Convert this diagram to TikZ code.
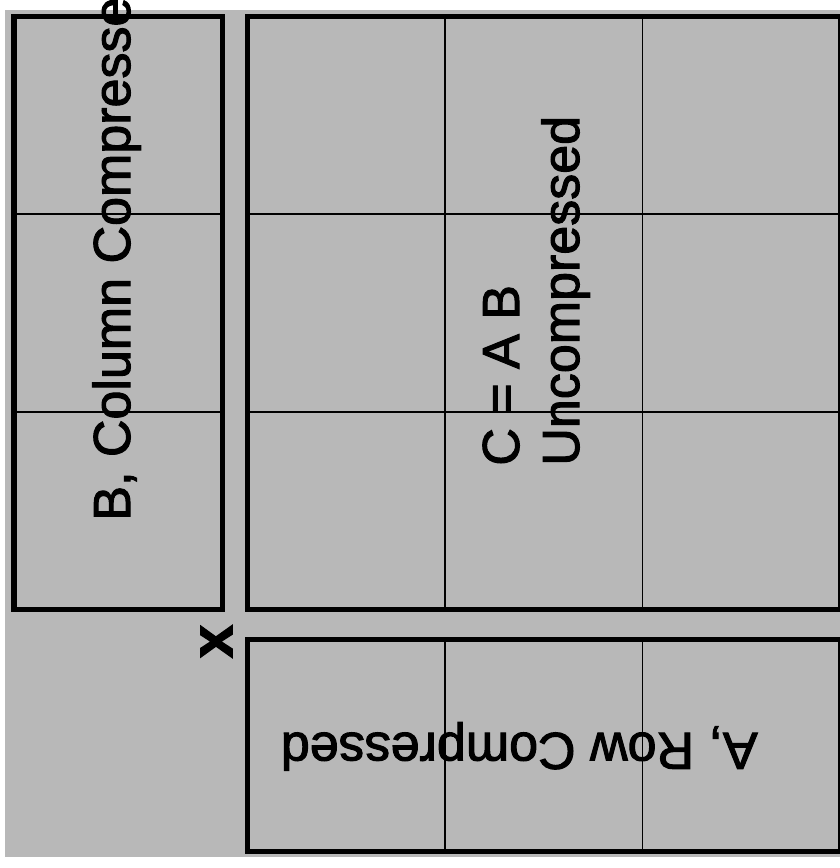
\documentclass[tikz,border=0pt]{standalone}
\usepackage{fontspec}
\setmainfont{Liberation Sans}[FakeBold=2]
\usetikzlibrary{positioning}
\definecolor{panelgray}{HTML}{B8B8B8}

\begin{document}
\begin{tikzpicture}[x=0.02cm,y=0.02cm,
    every node/.style={inner sep=0pt,font=\fontsize{29.6}{34}\selectfont},
    frame/.style={draw=black,line width=2.85pt},
    cell/.style={draw=black,line width=0.6pt}]
  \useasboundingbox (0,0) rectangle (839,868);
  \fill[panelgray] (5,11) rectangle (845,858);
  % thin cell lines
  \foreach \yy in {456,654} {
    \draw[cell] (14,\yy) -- (222.5,\yy);
    \draw[cell] (247.5,\yy) -- (840,\yy);
  }
  \foreach \xx in {445,642.5} {
    \draw[cell] (\xx,258.5) -- (\xx,851.5);
    \draw[cell] (\xx,16.5) -- (\xx,228.5);
  }
  % B, C and A
  \draw[frame] (14,258.5) rectangle (222.5,851.5);
  \draw[frame] (247.5,258.5) rectangle (840,851.5);
  \draw[frame] (247.5,16.5) rectangle (840,228.5);
  \node[rotate=90,anchor=base west] (btext) at (130,347) {B, Column Compressed};
  \node[rotate=90,anchor=base west] (cab) at (519,402) {C = A B};
  \node[rotate=90,anchor=base west] (uncomp) at (579,402) {Uncompressed};
  \node[rotate=180,anchor=base west] (atext) at (758,135) {A, Row Compressed};
  \node[rotate=90,font=\fontsize{34}{40}\selectfont\bfseries] (times) at (216.5,226.5) {x};
\end{tikzpicture}
\end{document}
